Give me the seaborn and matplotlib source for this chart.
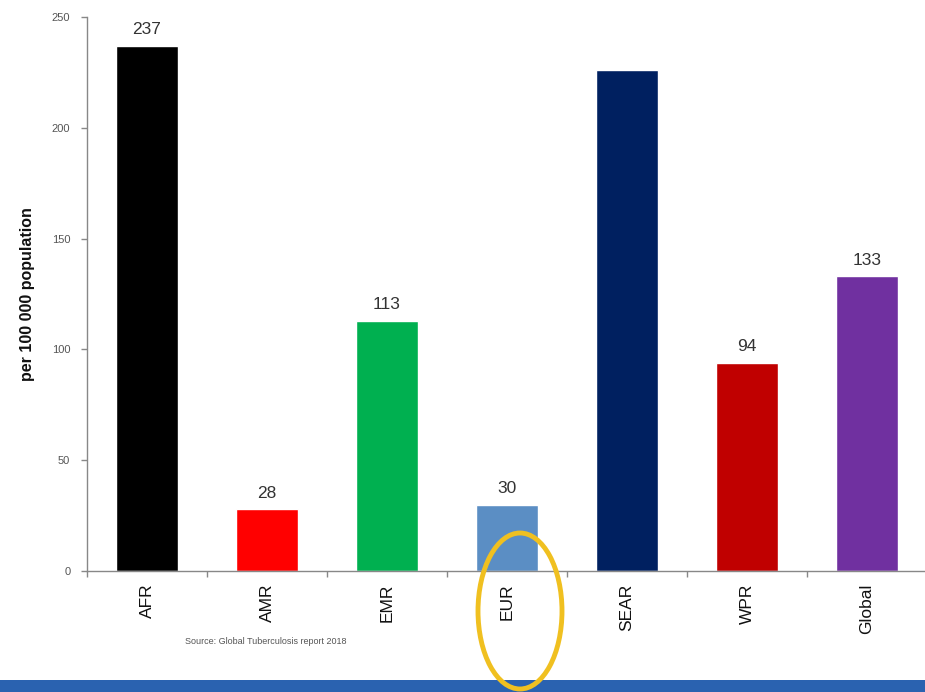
import matplotlib
matplotlib.use("Agg")
import matplotlib.pyplot as plt
from matplotlib.patches import Ellipse, Rectangle
import numpy as np
import pandas as pd
import seaborn as sns

regions = ["AFR", "AMR", "EMR", "EUR", "SEAR", "WPR", "Global"]
incidence = [237, 28, 113, 30, 226, 94, 133]
value_labels = ["237", "28", "113", "30", "", "94", "133"]
bar_colors = ["#000000", "#ff0000", "#00b050", "#5b8ec4", "#002060", "#c00000", "#7030a0"]
y_ticks = [0, 50, 100, 150, 200, 250]

sns.set_theme(style="white")
plt.rcParams["font.family"] = ["Liberation Sans", "DejaVu Sans"]

df = pd.DataFrame({"region": regions, "incidence": incidence})

fig = plt.figure(figsize=(9.25, 6.92), dpi=100)
ax = fig.add_axes([87 / 925, 121 / 692, 840 / 925, 554 / 692])

sns.barplot(data=df, x="region", y="incidence", hue="region",
            palette=bar_colors, width=0.51, saturation=1, legend=False, ax=ax)

for patch, txt in zip(ax.patches, value_labels):
    if txt:
        ax.annotate(txt, (patch.get_x() + patch.get_width() / 2, patch.get_height()),
                    xytext=(0, 6), textcoords="offset points", ha="center", va="bottom",
                    fontsize=12.5, color="#333333")

ax.set_xlim(-0.5, 6.5)
ax.set_ylim(0, 250)
ax.set_yticks(y_ticks)
ax.set_yticklabels([str(t) for t in y_ticks], fontsize=8, color="#555555")
ax.set_xticks(range(len(regions)))
ax.set_xticklabels(regions, rotation=90, fontsize=12.5, color="#111111")
ax.set_xticks(np.arange(-0.5, 7.0, 1.0), minor=True)
ax.tick_params(axis="x", which="major", length=0, pad=9)
ax.tick_params(axis="x", which="minor", length=4, color="#888888", width=1, direction="out", bottom=True)
ax.tick_params(axis="y", length=4, color="#888888", width=1, direction="out", left=True, pad=8)

ax.set_xlabel("")
ax.set_ylabel("per 100 000 population", fontsize=11.5, fontweight="bold", color="#111111", labelpad=12)

for side in ["top", "right"]:
    ax.spines[side].set_visible(False)
for side in ["left", "bottom"]:
    ax.spines[side].set_color("#888888")
    ax.spines[side].set_linewidth(1)

fig.text(185 / 925, 1 - 642 / 692, "Source: Global Tuberculosis report 2018",
         fontsize=6.5, color="#555555", ha="left", va="center")

# blue footer band
fig.patches.append(Rectangle((0, 0), 1, 12 / 692, transform=fig.transFigure,
                             facecolor="#2a62b0", edgecolor="none", zorder=0))

# yellow highlight ring around EUR
fig.patches.append(Ellipse((520 / 925, 1 - 611 / 692), 84 / 925, 156 / 692,
                           transform=fig.transFigure, facecolor="none",
                           edgecolor="#f0c020", linewidth=3.5, zorder=5))

fig.savefig("out.png", dpi=100)
